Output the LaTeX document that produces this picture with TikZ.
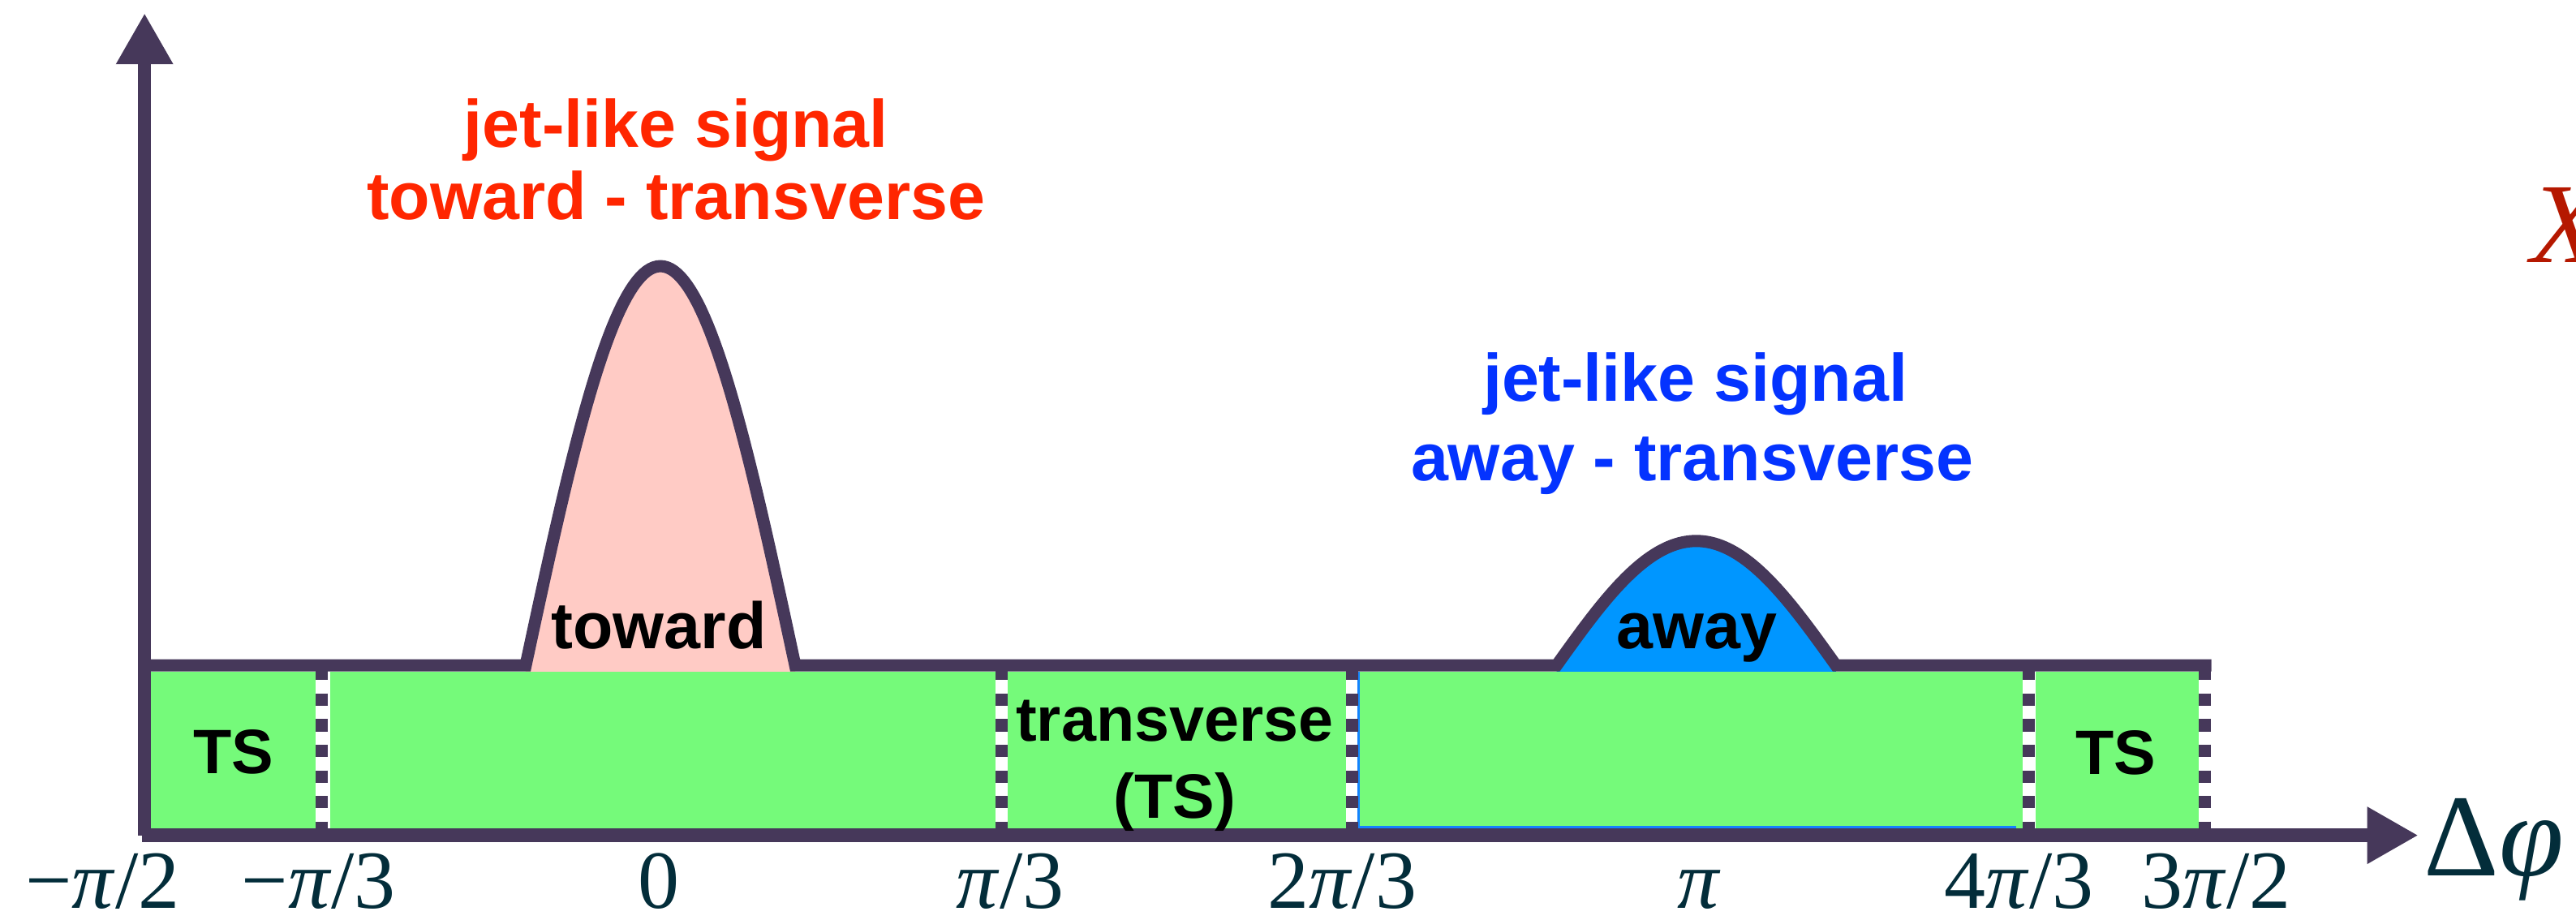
\documentclass[tikz,border=0pt]{standalone}
\usepackage{fontspec}
\setmainfont{Liberation Sans}
\newfontfamily\serifm{Liberation Serif}
\usetikzlibrary{arrows.meta}
\definecolor{axiscol}{RGB}{70,56,90}
\definecolor{boxgreen}{RGB}{117,250,122}
\definecolor{peakpink}{RGB}{255,203,197}
\definecolor{peakblue}{RGB}{0,150,255}
\definecolor{edgeblue}{RGB}{20,130,255}
\definecolor{sigred}{RGB}{255,38,0}
\definecolor{sigblue}{RGB}{4,51,255}
\definecolor{tickcol}{RGB}{3,45,58}
\definecolor{xred}{RGB}{181,24,0}
\tikzset{
  axisline/.style={draw=axiscol, line width=1.65mm},
  pedline/.style={draw=axiscol, line width=1.5mm},
  sepline/.style={draw=axiscol, line width=1.5mm, dash pattern=on 1.52mm off 1.64mm},
  greenbox/.style={fill=boxgreen},
  siglabel/.style={anchor=base, inner sep=0pt, font=\bfseries\fontsize{23.5}{28}\selectfont},
  peaklabel/.style={anchor=base, inner sep=0pt, font=\bfseries\fontsize{23}{27}\selectfont},
  boxlabel/.style={anchor=base, inner sep=0pt, font=\bfseries\fontsize{22}{26}\selectfont},
  ticklabel/.style={anchor=base, inner sep=0pt, text=tickcol, font=\serifm\fontsize{29}{32}\selectfont},
  axtip/.style={-{Triangle[length=6.3mm,width=6.6mm]}}
}
\begin{document}
\begin{tikzpicture}[x=0.2025mm,y=-0.2025mm]
\useasboundingbox (0,0) rectangle (1568,560);

% peak fills
\fill[peakpink] (320,409) -- plot[domain=-82:82,samples=81] ({402+\x},{405-243*cos(\x*90/82)}) -- (484,409) -- cycle;
\fill[peakblue] (947.5,409) -- plot[domain=-85:85,samples=81] ({1032.5+\x},{405-75.7*cos(\x*90/85)}) -- (1117.5,409) -- cycle;

% green regions
\fill[greenbox] (91.5,409) rectangle (192.3,504);
\fill[greenbox] (201,409) rectangle (605.8,504);
\fill[greenbox] (613.5,409) rectangle (819.3,504);
\fill[greenbox] (826.7,409) rectangle (1231.3,504);
\fill[greenbox] (1238.9,409) rectangle (1338.3,504);
\draw[edgeblue, line width=0.27mm] (826.8,409) -- (826.8,503.6) -- (1227,503.6);

% region separators
\foreach \d in {196,609.5,823,1235,1342}
  \draw[sepline] (\d,406.5) -- (\d,508);

% pedestal with the two peaks
\draw[pedline] (84,405) -- (320,405)
  -- plot[domain=-82:82,samples=81] ({402+\x},{405-243*cos(\x*90/82)})
  -- (947.5,405)
  -- plot[domain=-85:85,samples=81] ({1032.5+\x},{405-75.7*cos(\x*90/85)})
  -- (1346,405);

% axes
\coordinate (origin) at (88,508.5);
\coordinate (xorig) at (86.5,508.5);
\coordinate (xend) at (1472,508.5);
\coordinate (yend) at (88,8);
\draw[axisline, axtip] (origin) -- (yend);
\draw[axisline, axtip] (xorig) -- (xend);

% labels
\node[siglabel, text=sigred] (tl1) at (411.5,89.7) {jet-like signal};
\node[siglabel, text=sigred] (tl2) at (411.5,133.5) {toward - transverse};
\node[siglabel, text=sigblue] (al1) at (1032,244) {jet-like signal};
\node[siglabel, text=sigblue] (al2) at (1030,292.7) {away - transverse};
\node[peaklabel] (toward) at (401,395) {toward};
\node[peaklabel] (away) at (1033,395) {away};
\node[boxlabel] (ts1) at (142,471) {TS};
\node[boxlabel] (tr1) at (715,451) {transverse};
\node[boxlabel] (tr2) at (715,498) {(TS)};
\node[boxlabel] (ts2) at (1288,471.5) {TS};

% tick labels
\node[ticklabel] (t1) at (62.5,553) {−\textit{π}/2};
\node[ticklabel] (t2) at (194,553) {−\textit{π}/3};
\node[ticklabel] (t3) at (401,553) {0};
\node[ticklabel] (t4) at (615,553) {\textit{π}/3};
\node[ticklabel] (t5) at (817,553) {2\textit{π}/3};
\node[ticklabel] (t6) at (1034,553) {\textit{π}};
\node[ticklabel] (t7) at (1229,553) {4\textit{π}/3};
\node[ticklabel] (t8) at (1349,553) {3\textit{π}/2};

\node[anchor=base west, inner sep=0pt, text=tickcol, font=\serifm\fontsize{41}{45}\selectfont] (dphi) at (1475,533) {Δ\textit{φ}};
\node[anchor=base west, inner sep=0pt, text=xred, font=\serifm\itshape\fontsize{40}{44}\selectfont] (xlab) at (1540,160) {X};
\end{tikzpicture}
\end{document}
